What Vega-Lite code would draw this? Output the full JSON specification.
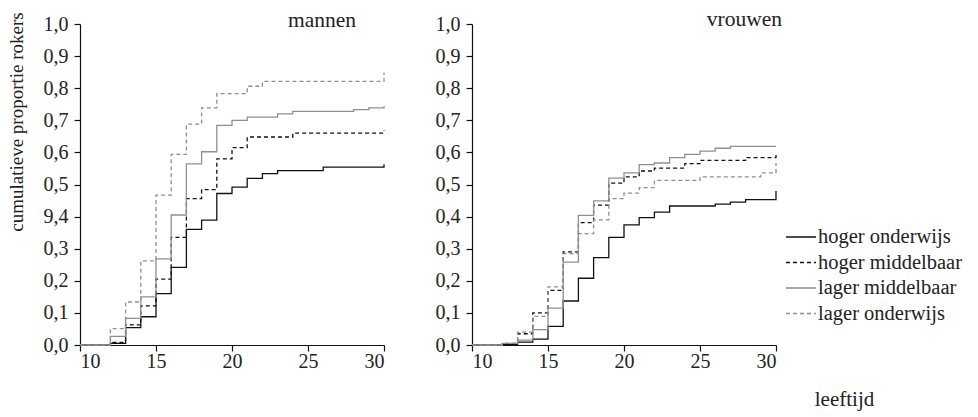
{
  "$schema": "https://vega.github.io/schema/vega-lite/v6.json",
  "background": "white",
  "padding": {"left": 6, "top": 9, "right": 5, "bottom": 5},
  "config": {
    "font": "Liberation Serif",
    "view": {"stroke": null},
    "style": {
      "guide-label": {"font": "Liberation Serif", "fill": "#222"},
      "guide-title": {"font": "Liberation Serif", "fill": "#222", "fontWeight": "normal"},
      "group-title": {"font": "Liberation Serif", "fill": "#222", "fontWeight": "normal"}
    },
    "axis": {"grid": false, "domainColor": "#111", "tickColor": "#111", "labelColor": "#222", "labelFontSize": 20, "labelFont": "Liberation Serif", "tickSize": 6, "domainWidth": 1.2, "tickWidth": 1.2, "titleFont": "Liberation Serif", "titleFontWeight": "normal", "titleColor": "#222", "titleFontSize": 21},
    "title": {"font": "Liberation Serif", "fontWeight": "normal", "fontSize": 21.5, "color": "#222"},
    "legend": {"labelFont": "Liberation Serif"}
  },
  "data": {"values": [
    {"sekse":"mannen","groep":"hoger onderwijs","leeftijd":10,"p":0},
    {"sekse":"mannen","groep":"hoger onderwijs","leeftijd":12,"p":0.005},
    {"sekse":"mannen","groep":"hoger onderwijs","leeftijd":13,"p":0.054},
    {"sekse":"mannen","groep":"hoger onderwijs","leeftijd":14,"p":0.088},
    {"sekse":"mannen","groep":"hoger onderwijs","leeftijd":15,"p":0.16},
    {"sekse":"mannen","groep":"hoger onderwijs","leeftijd":16,"p":0.242},
    {"sekse":"mannen","groep":"hoger onderwijs","leeftijd":17,"p":0.36},
    {"sekse":"mannen","groep":"hoger onderwijs","leeftijd":18,"p":0.389},
    {"sekse":"mannen","groep":"hoger onderwijs","leeftijd":19,"p":0.472},
    {"sekse":"mannen","groep":"hoger onderwijs","leeftijd":20,"p":0.492},
    {"sekse":"mannen","groep":"hoger onderwijs","leeftijd":21,"p":0.519},
    {"sekse":"mannen","groep":"hoger onderwijs","leeftijd":22,"p":0.534},
    {"sekse":"mannen","groep":"hoger onderwijs","leeftijd":23,"p":0.543},
    {"sekse":"mannen","groep":"hoger onderwijs","leeftijd":26,"p":0.554},
    {"sekse":"mannen","groep":"hoger onderwijs","leeftijd":30,"p":0.563},
    {"sekse":"mannen","groep":"hoger middelbaar","leeftijd":10,"p":0},
    {"sekse":"mannen","groep":"hoger middelbaar","leeftijd":12,"p":0.008},
    {"sekse":"mannen","groep":"hoger middelbaar","leeftijd":13,"p":0.063},
    {"sekse":"mannen","groep":"hoger middelbaar","leeftijd":14,"p":0.122},
    {"sekse":"mannen","groep":"hoger middelbaar","leeftijd":15,"p":0.205},
    {"sekse":"mannen","groep":"hoger middelbaar","leeftijd":16,"p":0.335},
    {"sekse":"mannen","groep":"hoger middelbaar","leeftijd":17,"p":0.456},
    {"sekse":"mannen","groep":"hoger middelbaar","leeftijd":18,"p":0.484},
    {"sekse":"mannen","groep":"hoger middelbaar","leeftijd":19,"p":0.58},
    {"sekse":"mannen","groep":"hoger middelbaar","leeftijd":20,"p":0.615},
    {"sekse":"mannen","groep":"hoger middelbaar","leeftijd":21,"p":0.648},
    {"sekse":"mannen","groep":"hoger middelbaar","leeftijd":24,"p":0.66},
    {"sekse":"mannen","groep":"hoger middelbaar","leeftijd":30,"p":0.668},
    {"sekse":"mannen","groep":"lager middelbaar","leeftijd":10,"p":0},
    {"sekse":"mannen","groep":"lager middelbaar","leeftijd":12,"p":0.027},
    {"sekse":"mannen","groep":"lager middelbaar","leeftijd":13,"p":0.083},
    {"sekse":"mannen","groep":"lager middelbaar","leeftijd":14,"p":0.15},
    {"sekse":"mannen","groep":"lager middelbaar","leeftijd":15,"p":0.268},
    {"sekse":"mannen","groep":"lager middelbaar","leeftijd":16,"p":0.405},
    {"sekse":"mannen","groep":"lager middelbaar","leeftijd":17,"p":0.564},
    {"sekse":"mannen","groep":"lager middelbaar","leeftijd":18,"p":0.602},
    {"sekse":"mannen","groep":"lager middelbaar","leeftijd":19,"p":0.684},
    {"sekse":"mannen","groep":"lager middelbaar","leeftijd":20,"p":0.7},
    {"sekse":"mannen","groep":"lager middelbaar","leeftijd":21,"p":0.71},
    {"sekse":"mannen","groep":"lager middelbaar","leeftijd":23,"p":0.72},
    {"sekse":"mannen","groep":"lager middelbaar","leeftijd":24,"p":0.728},
    {"sekse":"mannen","groep":"lager middelbaar","leeftijd":28,"p":0.733},
    {"sekse":"mannen","groep":"lager middelbaar","leeftijd":29,"p":0.739},
    {"sekse":"mannen","groep":"lager middelbaar","leeftijd":30,"p":0.744},
    {"sekse":"mannen","groep":"lager onderwijs","leeftijd":10,"p":0},
    {"sekse":"mannen","groep":"lager onderwijs","leeftijd":12,"p":0.051},
    {"sekse":"mannen","groep":"lager onderwijs","leeftijd":13,"p":0.134},
    {"sekse":"mannen","groep":"lager onderwijs","leeftijd":14,"p":0.262},
    {"sekse":"mannen","groep":"lager onderwijs","leeftijd":15,"p":0.467},
    {"sekse":"mannen","groep":"lager onderwijs","leeftijd":16,"p":0.594},
    {"sekse":"mannen","groep":"lager onderwijs","leeftijd":17,"p":0.688},
    {"sekse":"mannen","groep":"lager onderwijs","leeftijd":18,"p":0.739},
    {"sekse":"mannen","groep":"lager onderwijs","leeftijd":19,"p":0.783},
    {"sekse":"mannen","groep":"lager onderwijs","leeftijd":21,"p":0.806},
    {"sekse":"mannen","groep":"lager onderwijs","leeftijd":22,"p":0.821},
    {"sekse":"mannen","groep":"lager onderwijs","leeftijd":30,"p":0.848},
    {"sekse":"vrouwen","groep":"hoger onderwijs","leeftijd":10,"p":0},
    {"sekse":"vrouwen","groep":"hoger onderwijs","leeftijd":12,"p":0.002},
    {"sekse":"vrouwen","groep":"hoger onderwijs","leeftijd":13,"p":0.009},
    {"sekse":"vrouwen","groep":"hoger onderwijs","leeftijd":14,"p":0.018},
    {"sekse":"vrouwen","groep":"hoger onderwijs","leeftijd":15,"p":0.058},
    {"sekse":"vrouwen","groep":"hoger onderwijs","leeftijd":16,"p":0.137},
    {"sekse":"vrouwen","groep":"hoger onderwijs","leeftijd":17,"p":0.208},
    {"sekse":"vrouwen","groep":"hoger onderwijs","leeftijd":18,"p":0.272},
    {"sekse":"vrouwen","groep":"hoger onderwijs","leeftijd":19,"p":0.335},
    {"sekse":"vrouwen","groep":"hoger onderwijs","leeftijd":20,"p":0.374},
    {"sekse":"vrouwen","groep":"hoger onderwijs","leeftijd":21,"p":0.397},
    {"sekse":"vrouwen","groep":"hoger onderwijs","leeftijd":22,"p":0.414},
    {"sekse":"vrouwen","groep":"hoger onderwijs","leeftijd":23,"p":0.433},
    {"sekse":"vrouwen","groep":"hoger onderwijs","leeftijd":26,"p":0.439},
    {"sekse":"vrouwen","groep":"hoger onderwijs","leeftijd":27,"p":0.445},
    {"sekse":"vrouwen","groep":"hoger onderwijs","leeftijd":28,"p":0.453},
    {"sekse":"vrouwen","groep":"hoger onderwijs","leeftijd":30,"p":0.48},
    {"sekse":"vrouwen","groep":"hoger middelbaar","leeftijd":10,"p":0},
    {"sekse":"vrouwen","groep":"hoger middelbaar","leeftijd":12,"p":0.003},
    {"sekse":"vrouwen","groep":"hoger middelbaar","leeftijd":13,"p":0.035},
    {"sekse":"vrouwen","groep":"hoger middelbaar","leeftijd":14,"p":0.1},
    {"sekse":"vrouwen","groep":"hoger middelbaar","leeftijd":15,"p":0.17},
    {"sekse":"vrouwen","groep":"hoger middelbaar","leeftijd":16,"p":0.29},
    {"sekse":"vrouwen","groep":"hoger middelbaar","leeftijd":17,"p":0.381},
    {"sekse":"vrouwen","groep":"hoger middelbaar","leeftijd":18,"p":0.436},
    {"sekse":"vrouwen","groep":"hoger middelbaar","leeftijd":19,"p":0.504},
    {"sekse":"vrouwen","groep":"hoger middelbaar","leeftijd":20,"p":0.524},
    {"sekse":"vrouwen","groep":"hoger middelbaar","leeftijd":21,"p":0.542},
    {"sekse":"vrouwen","groep":"hoger middelbaar","leeftijd":22,"p":0.551},
    {"sekse":"vrouwen","groep":"hoger middelbaar","leeftijd":24,"p":0.565},
    {"sekse":"vrouwen","groep":"hoger middelbaar","leeftijd":25,"p":0.575},
    {"sekse":"vrouwen","groep":"hoger middelbaar","leeftijd":28,"p":0.584},
    {"sekse":"vrouwen","groep":"hoger middelbaar","leeftijd":30,"p":0.594},
    {"sekse":"vrouwen","groep":"lager middelbaar","leeftijd":10,"p":0},
    {"sekse":"vrouwen","groep":"lager middelbaar","leeftijd":12,"p":0.005},
    {"sekse":"vrouwen","groep":"lager middelbaar","leeftijd":13,"p":0.015},
    {"sekse":"vrouwen","groep":"lager middelbaar","leeftijd":14,"p":0.048},
    {"sekse":"vrouwen","groep":"lager middelbaar","leeftijd":15,"p":0.115},
    {"sekse":"vrouwen","groep":"lager middelbaar","leeftijd":16,"p":0.258},
    {"sekse":"vrouwen","groep":"lager middelbaar","leeftijd":17,"p":0.404},
    {"sekse":"vrouwen","groep":"lager middelbaar","leeftijd":18,"p":0.449},
    {"sekse":"vrouwen","groep":"lager middelbaar","leeftijd":19,"p":0.52},
    {"sekse":"vrouwen","groep":"lager middelbaar","leeftijd":20,"p":0.536},
    {"sekse":"vrouwen","groep":"lager middelbaar","leeftijd":21,"p":0.562},
    {"sekse":"vrouwen","groep":"lager middelbaar","leeftijd":22,"p":0.567},
    {"sekse":"vrouwen","groep":"lager middelbaar","leeftijd":23,"p":0.584},
    {"sekse":"vrouwen","groep":"lager middelbaar","leeftijd":24,"p":0.594},
    {"sekse":"vrouwen","groep":"lager middelbaar","leeftijd":25,"p":0.604},
    {"sekse":"vrouwen","groep":"lager middelbaar","leeftijd":26,"p":0.613},
    {"sekse":"vrouwen","groep":"lager middelbaar","leeftijd":27,"p":0.619},
    {"sekse":"vrouwen","groep":"lager middelbaar","leeftijd":30,"p":0.619},
    {"sekse":"vrouwen","groep":"lager onderwijs","leeftijd":10,"p":0},
    {"sekse":"vrouwen","groep":"lager onderwijs","leeftijd":12,"p":0.006},
    {"sekse":"vrouwen","groep":"lager onderwijs","leeftijd":13,"p":0.04},
    {"sekse":"vrouwen","groep":"lager onderwijs","leeftijd":14,"p":0.089},
    {"sekse":"vrouwen","groep":"lager onderwijs","leeftijd":15,"p":0.181},
    {"sekse":"vrouwen","groep":"lager onderwijs","leeftijd":16,"p":0.285},
    {"sekse":"vrouwen","groep":"lager onderwijs","leeftijd":17,"p":0.347},
    {"sekse":"vrouwen","groep":"lager onderwijs","leeftijd":18,"p":0.39},
    {"sekse":"vrouwen","groep":"lager onderwijs","leeftijd":19,"p":0.456},
    {"sekse":"vrouwen","groep":"lager onderwijs","leeftijd":20,"p":0.473},
    {"sekse":"vrouwen","groep":"lager onderwijs","leeftijd":21,"p":0.49},
    {"sekse":"vrouwen","groep":"lager onderwijs","leeftijd":22,"p":0.513},
    {"sekse":"vrouwen","groep":"lager onderwijs","leeftijd":25,"p":0.524},
    {"sekse":"vrouwen","groep":"lager onderwijs","leeftijd":29,"p":0.536},
    {"sekse":"vrouwen","groep":"lager onderwijs","leeftijd":30,"p":0.567}
  ]},
  "spacing": 88,
  "bounds": "flush",
  "resolve": {"scale": {"color": "shared", "strokeDash": "shared"}},
  "hconcat": [
    {
      "width": 304,
      "height": 321,
      "transform": [{"filter": "datum.sekse == 'mannen'"}],
      "title": {"text": "mannen", "anchor": "end", "frame": "group", "baseline": "alphabetic", "offset": -36.5, "dx": -28, "font": "Liberation Serif"},
      "mark": {"type": "line", "interpolate": "step-after", "strokeWidth": 1.3},
      "encoding": {
        "x": {"field": "leeftijd", "type": "quantitative", "scale": {"domain": [10, 30], "nice": false}, "axis": {"values": [10, 15, 20, 25, 30], "title": null, "labelPadding": 0, "labelFont": "Liberation Serif"}},
        "y": {"field": "p", "type": "quantitative", "scale": {"domain": [0, 1], "nice": false}, "axis": {"values": [0, 0.1, 0.2, 0.3, 0.4, 0.5, 0.6, 0.7, 0.8, 0.9, 1], "labelExpr": "abs(datum.value - 0.4) < 0.001 ? '9,4' : replace(format(datum.value, '.1f'), '.', ',')", "labelPadding": 6, "labelFont": "Liberation Serif", "title": "cumulatieve proportie rokers", "titleFontSize": 19, "titleAngle": 270, "titleX": -58, "titleY": 97.5, "titleAlign": "center", "titleBaseline": "alphabetic"}},
        "color": {"field": "groep", "type": "nominal", "scale": {"domain": ["hoger onderwijs", "hoger middelbaar", "lager middelbaar", "lager onderwijs"], "range": ["#111111", "#111111", "#8f8f8f", "#8f8f8f"]},
          "legend": {"orient": "none", "legendX": 705, "legendY": 203, "title": null, "symbolType": "stroke", "symbolSize": 900, "symbolStrokeWidth": 1.3, "labelFontSize": 20.5, "labelFont": "Liberation Serif", "labelColor": "#222", "clipHeight": 20, "rowPadding": 4.5, "padding": 0, "labelOffset": 1}},
        "strokeDash": {"field": "groep", "type": "nominal", "scale": {"domain": ["hoger onderwijs", "hoger middelbaar", "lager middelbaar", "lager onderwijs"], "range": [[1, 0], [4, 3], [1, 0], [4, 3]]}, "legend": {"orient": "none", "legendX": 705, "legendY": 203, "title": null, "symbolType": "stroke", "symbolSize": 900, "symbolStrokeWidth": 1.3, "labelFontSize": 20.5, "labelFont": "Liberation Serif", "labelColor": "#222", "clipHeight": 20, "rowPadding": 4.5, "padding": 0, "labelOffset": 1}}
      }
    },
    {
      "width": 304,
      "height": 321,
      "transform": [{"filter": "datum.sekse == 'vrouwen'"}],
      "title": {"text": "vrouwen", "anchor": "end", "frame": "group", "baseline": "alphabetic", "offset": -33.5, "dx": 6, "font": "Liberation Serif"},
      "mark": {"type": "line", "interpolate": "step-after", "strokeWidth": 1.3},
      "encoding": {
        "x": {"field": "leeftijd", "type": "quantitative", "scale": {"domain": [10, 30], "nice": false}, "axis": {"values": [10, 15, 20, 25, 30], "labelPadding": 0, "labelFont": "Liberation Serif", "title": "leeftijd", "titleX": 372, "titleY": 60, "titleAlign": "center", "titleBaseline": "alphabetic"}},
        "y": {"field": "p", "type": "quantitative", "scale": {"domain": [0, 1], "nice": false}, "axis": {"values": [0, 0.1, 0.2, 0.3, 0.4, 0.5, 0.6, 0.7, 0.8, 0.9, 1], "labelExpr": "replace(format(datum.value, '.1f'), '.', ',')", "labelPadding": 6, "labelFont": "Liberation Serif", "title": null}},
        "color": {"field": "groep", "type": "nominal"},
        "strokeDash": {"field": "groep", "type": "nominal"}
      }
    }
  ]
}
